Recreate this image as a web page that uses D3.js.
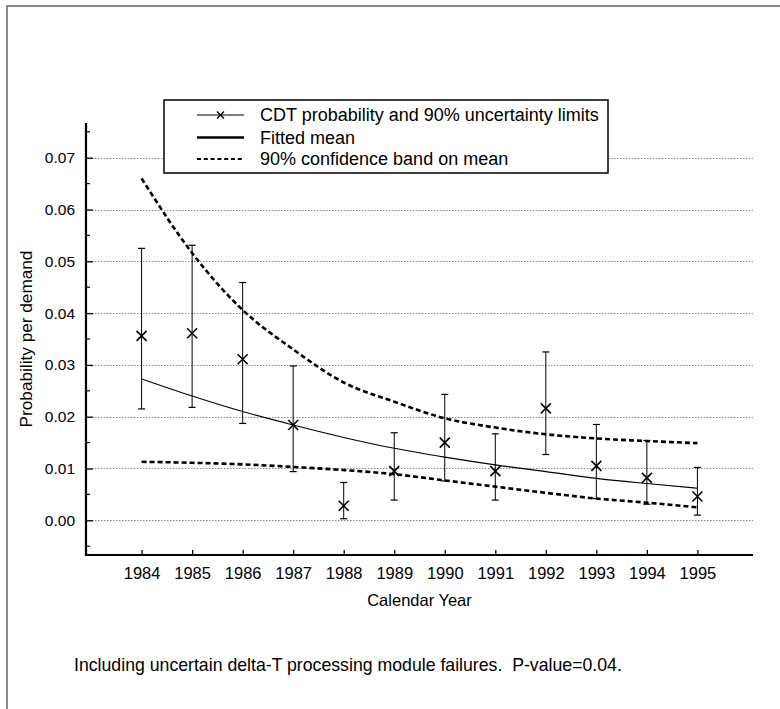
<!DOCTYPE html>
<html>
<head>
<meta charset="utf-8">
<script src="https://cdn.jsdelivr.net/npm/d3@7"></script>
<style>
  html, body { margin: 0; padding: 0; background: #fff; }
  svg { display: block; font-family: "Liberation Sans", Arial, Helvetica, sans-serif; }
</style>
</head>
<body>
<svg id="chart" width="780" height="709"></svg>
<script>
// Calendar years on the horizontal axis
const years = [1984, 1985, 1986, 1987, 1988, 1989, 1990, 1991, 1992, 1993, 1994, 1995];

// CDT probability per demand (point estimate) and its 90% uncertainty limits
const cdtProbability = [0.0356, 0.0361, 0.0311, 0.0184, 0.0028, 0.0095, 0.0150, 0.0095, 0.0216, 0.0105, 0.0082, 0.0046];
const cdtUpper90     = [0.0525, 0.0531, 0.0459, 0.0298, 0.0073, 0.0169, 0.0243, 0.0167, 0.0325, 0.0185, 0.0154, 0.0102];
const cdtLower90     = [0.0215, 0.0218, 0.0187, 0.0094, 0.0003, 0.0039, 0.0076, 0.0039, 0.0127, 0.0042, 0.0031, 0.0010];

// Fitted trend and its 90% confidence band
const fittedMean = [0.0273, 0.0240, 0.0210, 0.0184, 0.0160, 0.0139, 0.0122, 0.0107, 0.0094, 0.0081, 0.0071, 0.0062];
const bandUpper  = [0.0660, 0.0516, 0.0406, 0.0330, 0.0266, 0.0229, 0.0197, 0.0179, 0.0166, 0.0158, 0.0153, 0.0149];
const bandLower  = [0.0113, 0.0111, 0.0108, 0.0103, 0.0097, 0.0089, 0.0077, 0.0065, 0.0053, 0.0042, 0.0034, 0.0025];

// Axis tick values
const yMajorTicks = [0.00, 0.01, 0.02, 0.03, 0.04, 0.05, 0.06, 0.07];
const yMinorTicks = [-0.005, 0.005, 0.015, 0.025, 0.035, 0.045, 0.055, 0.065, 0.075];

const legendLabels = [
  "CDT probability and 90% uncertainty limits",
  "Fitted mean",
  "90% confidence band on mean"
];
const noteText = "Including uncertain delta-T processing module failures.  P-value=0.04.";

const svg = d3.select("#chart");

// Page frame
svg.append("rect")
  .attr("x", 7).attr("y", 6)
  .attr("width", 800).attr("height", 760)
  .attr("fill", "none")
  .attr("stroke", "#707070")
  .attr("stroke-width", 1.6);

const plot = { left: 86, right: 753, top: 123, bottom: 555 };

const x = d3.scaleLinear().domain([1982.9, 1996.1]).range([plot.left, plot.right]);
const y = d3.scaleLinear().domain([-0.0067, 0.0767]).range([plot.bottom, plot.top]);

// Dotted horizontal grid
svg.append("g")
  .selectAll("line")
  .data(yMajorTicks)
  .join("line")
  .attr("x1", plot.left).attr("x2", plot.right)
  .attr("y1", d => Math.round(y(d)) + 0.5).attr("y2", d => Math.round(y(d)) + 0.5)
  .attr("stroke", "#8a8a8a")
  .attr("stroke-width", 1)
  .attr("stroke-dasharray", "1.5,1.5");

// Y axis: ticks point inward, labels on the left
const yAxis = d3.axisLeft(y)
  .tickValues(yMajorTicks)
  .tickSize(-7)
  .tickPadding(11)
  .tickFormat(d3.format(".2f"));
const gy = svg.append("g").attr("transform", `translate(${plot.left},0)`).call(yAxis);
gy.select(".domain").remove();
gy.selectAll(".tick line").attr("stroke", "#000").attr("stroke-width", 1.3);
gy.selectAll(".tick text").attr("font-size", 15.5).attr("fill", "#000")
  .attr("font-family", "'Liberation Sans', Arial, sans-serif");

svg.append("g")
  .selectAll("line")
  .data(yMinorTicks)
  .join("line")
  .attr("x1", plot.left).attr("x2", plot.left + 4)
  .attr("y1", d => y(d)).attr("y2", d => y(d))
  .attr("stroke", "#000").attr("stroke-width", 1.2);

// X axis: ticks point inward, labels below
const xAxis = d3.axisBottom(x)
  .tickValues(years)
  .tickSize(-5)
  .tickPadding(12)
  .tickFormat(d3.format("d"));
const gx = svg.append("g").attr("transform", `translate(0,${plot.bottom})`).call(xAxis);
gx.select(".domain").remove();
gx.selectAll(".tick line").attr("stroke", "#000").attr("stroke-width", 1.3);
gx.selectAll(".tick text").attr("font-size", 16.5).attr("fill", "#000")
  .attr("font-family", "'Liberation Sans', Arial, sans-serif");

// Axis lines
svg.append("line")
  .attr("x1", plot.left).attr("x2", plot.left)
  .attr("y1", plot.top).attr("y2", plot.bottom + 1)
  .attr("stroke", "#000").attr("stroke-width", 2.2);
svg.append("line")
  .attr("x1", plot.left - 1).attr("x2", plot.right)
  .attr("y1", plot.bottom).attr("y2", plot.bottom)
  .attr("stroke", "#000").attr("stroke-width", 2.2);

// Axis titles
svg.append("text")
  .attr("x", (plot.left + plot.right) / 2)
  .attr("y", 606)
  .attr("text-anchor", "middle")
  .attr("font-size", 16.5)
  .text("Calendar Year");

svg.append("text")
  .attr("transform", "translate(32,339) rotate(-90)")
  .attr("text-anchor", "middle")
  .attr("font-size", 17.2)
  .text("Probability per demand");

// Confidence band and fitted mean
const curve = d3.line()
  .x((d, i) => x(years[i]))
  .y(d => y(d))
  .curve(d3.curveMonotoneX);

[bandUpper, bandLower].forEach(series => {
  svg.append("path")
    .attr("d", curve(series))
    .attr("fill", "none")
    .attr("stroke", "#000")
    .attr("stroke-width", 2.6)
    .attr("stroke-dasharray", "5,3");
});

svg.append("path")
  .attr("d", curve(fittedMean))
  .attr("fill", "none")
  .attr("stroke", "#000")
  .attr("stroke-width", 1.1);

// Uncertainty bars with caps
const bars = svg.append("g")
  .selectAll("g")
  .data(years.map((yr, i) => ({ yr, lo: cdtLower90[i], hi: cdtUpper90[i], p: cdtProbability[i] })))
  .join("g");

bars.append("line")
  .attr("x1", d => x(d.yr)).attr("x2", d => x(d.yr))
  .attr("y1", d => y(d.lo)).attr("y2", d => y(d.hi))
  .attr("stroke", "#000").attr("stroke-width", 1);
bars.append("line")
  .attr("x1", d => x(d.yr) - 3.5).attr("x2", d => x(d.yr) + 3.5)
  .attr("y1", d => y(d.hi)).attr("y2", d => y(d.hi))
  .attr("stroke", "#000").attr("stroke-width", 1.2);
bars.append("line")
  .attr("x1", d => x(d.yr) - 3.5).attr("x2", d => x(d.yr) + 3.5)
  .attr("y1", d => y(d.lo)).attr("y2", d => y(d.lo))
  .attr("stroke", "#000").attr("stroke-width", 1.2);

// Cross markers
const crossPath = r => `M${-r},${-r}L${r},${r}M${-r},${r}L${r},${-r}`;
bars.append("path")
  .attr("transform", d => `translate(${x(d.yr)},${y(d.p)})`)
  .attr("d", crossPath(5))
  .attr("fill", "none")
  .attr("stroke", "#000")
  .attr("stroke-width", 1.6);

// Legend
const legend = svg.append("g");
legend.append("rect")
  .attr("x", 164).attr("y", 100)
  .attr("width", 444).attr("height", 73)
  .attr("fill", "#fff")
  .attr("stroke", "#000")
  .attr("stroke-width", 1.5);

const rowY = [115, 137.5, 159];
const symX1 = 197, symX2 = 244;

legend.append("line")
  .attr("x1", symX1).attr("x2", symX2).attr("y1", rowY[0]).attr("y2", rowY[0])
  .attr("stroke", "#000").attr("stroke-width", 1.1);
legend.append("path")
  .attr("transform", `translate(${(symX1 + symX2) / 2},${rowY[0]})`)
  .attr("d", crossPath(3.5))
  .attr("stroke", "#000").attr("stroke-width", 1.4);

legend.append("line")
  .attr("x1", symX1).attr("x2", symX2).attr("y1", rowY[1]).attr("y2", rowY[1])
  .attr("stroke", "#000").attr("stroke-width", 2.6);

legend.append("line")
  .attr("x1", symX1).attr("x2", symX2).attr("y1", rowY[2]).attr("y2", rowY[2])
  .attr("stroke", "#000").attr("stroke-width", 2)
  .attr("stroke-dasharray", "4,2.8");

legend.selectAll("text.lbl")
  .data(legendLabels)
  .join("text")
  .attr("class", "lbl")
  .attr("x", 260)
  .attr("y", (d, i) => rowY[i])
  .attr("dy", "0.36em")
  .attr("font-size", 18)
  .text(d => d);

// Footnote
svg.append("text")
  .attr("x", 74)
  .attr("y", 671)
  .attr("font-size", 17.7)
  .attr("xml:space", "preserve")
  .style("white-space", "pre")
  .text(noteText);
</script>
</body>
</html>
